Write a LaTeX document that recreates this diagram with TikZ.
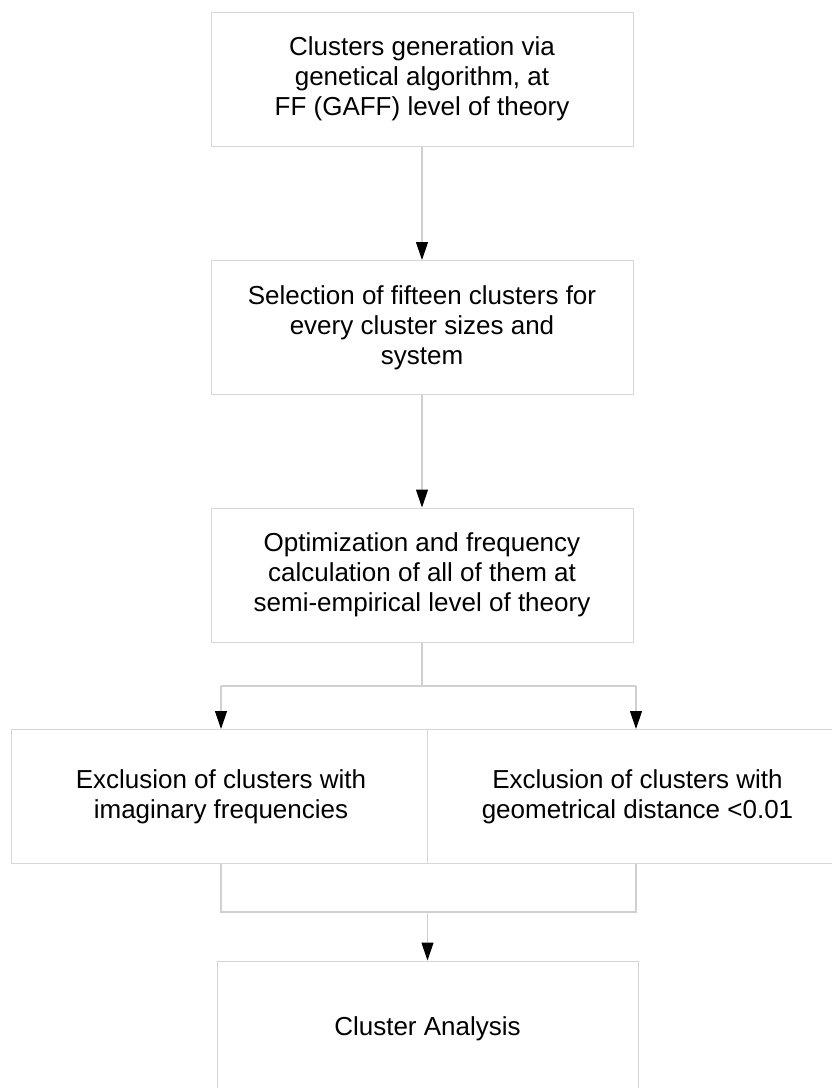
\documentclass[tikz,border=0pt]{standalone}
\usepackage{fontspec}
\setmainfont{Liberation Sans}
\usetikzlibrary{arrows.meta}
\definecolor{boxgray}{HTML}{D6D6D6}
\definecolor{linegray}{HTML}{D0D0D0}
\begin{document}
\begin{tikzpicture}[x=1pt,y=-1pt,
  box/.style={draw=boxgray,fill=white,line width=1pt,minimum width=422pt,minimum height=134pt,
    align=center,font=\fontsize{26}{30}\selectfont,inner sep=0pt},
  conn/.style={draw=linegray,line width=1.2pt},
  arr/.style={conn,-{Triangle[length=18pt,width=12pt,color=black]}}]
\useasboundingbox[fill=white] (0,0) rectangle (832,1088);
\begin{scope}
\clip (0,0) rectangle (832,1088);
\node[box] (b1) at (422,79) {Clusters generation via\\genetical algorithm, at\\FF (GAFF) level of theory};
\node[box] (b2) at (422,327.5) {Selection of fifteen clusters for\\every cluster sizes and\\system};
\node[box] (b3) at (422,575) {Optimization and frequency\\calculation of all of them at\\semi-empirical level of theory};
\node[box,minimum width=420pt] (b4l) at (221,796.5) {Exclusion of clusters with\\imaginary frequencies};
\node[box,minimum width=421pt] (b4r) at (637.5,796.5) {Exclusion of clusters with\\geometrical distance <0.01};
\node[box,minimum width=421pt,minimum height=135pt] (b5) at (427.5,1028.5) {Cluster Analysis};
\coordinate (s) at (422,686);
\coordinate (sl) at (221,686);
\coordinate (sr) at (636,686);
\coordinate (jl) at (221,912);
\coordinate (jr) at (636,912);
\coordinate (jm) at (427.5,912);
\draw[arr] (b1.south) -- (b2.north);
\draw[arr] (b2.south) -- (b3.north);
\draw[conn] (b3.south) -- (s);
\draw[conn] (sl) -- (sr);
\draw[arr] (sl) -- (b4l.north);
\draw[arr] (sr) -- (sr |- b4r.north);
\draw[conn] (b4l.south) -- (jl) -- (jr) -- (sr |- b4r.south);
\draw[arr] (jm) -- (b5.north);
\end{scope}
\end{tikzpicture}
\end{document}
